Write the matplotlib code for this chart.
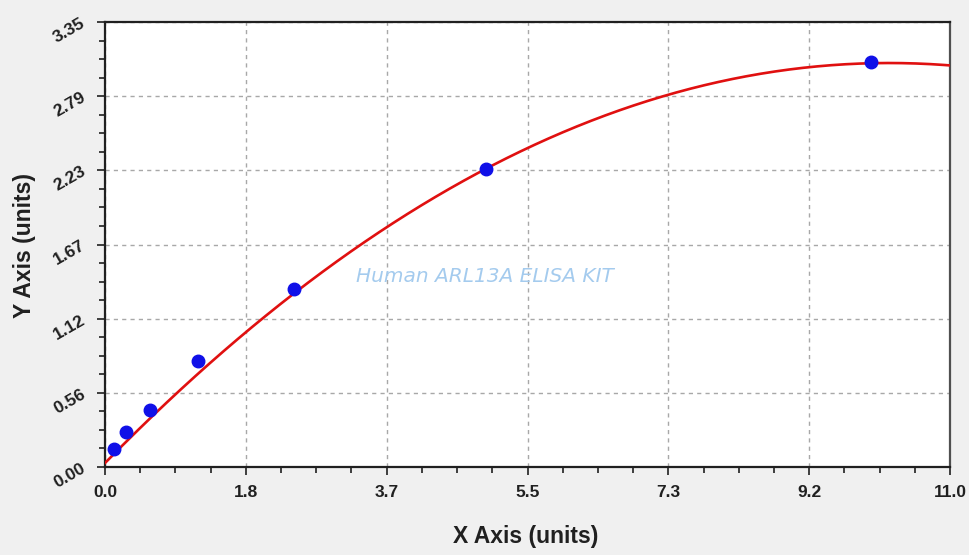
import numpy as np
import matplotlib
matplotlib.use("Agg")
import matplotlib.pyplot as plt
from matplotlib.ticker import FixedLocator, AutoMinorLocator

# Data
x_std = [0.12, 0.27, 0.58, 1.21, 2.46, 4.96, 9.97]
y_std = [0.136, 0.263, 0.430, 0.800, 1.340, 2.240, 3.050]

# Standard curve (quadratic) coefficients
fit_coef = [-0.0289, 0.590, 0.03]

x_ticks = [0.0, 11/6, 22/6, 33/6, 44/6, 55/6, 11.0]
x_tick_labels = ["0.0", "1.8", "3.7", "5.5", "7.3", "9.2", "11.0"]
y_ticks = [0.0, 3.35/6, 2*3.35/6, 3*3.35/6, 4*3.35/6, 5*3.35/6, 3.35]
y_tick_labels = ["0.00", "0.56", "1.12", "1.67", "2.23", "2.79", "3.35"]

title_text = "Human ARL13A ELISA KIT"
x_label = "X Axis (units)"
y_label = "Y Axis (units)"

x_fit = np.linspace(0, 11, 300)
y_fit = np.polyval(fit_coef, x_fit)

plt.rcParams['font.family'] = ['Liberation Sans', 'DejaVu Sans']

fig = plt.figure(figsize=(9.7, 5.55), dpi=100, facecolor="#f0f0f0")
ax = fig.add_axes([105/970, 88/555, 845/970, 445/555])
ax.set_facecolor("white")

ax.plot(x_fit, y_fit, color="#e01010", lw=1.9, zorder=3)
ax.plot(x_std, y_std, 'o', color="#1010e8", markersize=9, zorder=4)

ax.set_xlim(0, 11)
ax.set_ylim(0, 3.35)
ax.xaxis.set_major_locator(FixedLocator(x_ticks))
ax.yaxis.set_major_locator(FixedLocator(y_ticks))
ax.set_xticklabels(x_tick_labels, fontsize=12.5, fontweight="bold", color="#202020")
ax.set_yticklabels(y_tick_labels, fontsize=12.5, fontweight="bold", color="#202020",
                   rotation=30, ha="right", va="center", rotation_mode="anchor")
ax.xaxis.set_minor_locator(AutoMinorLocator(4))
ax.yaxis.set_minor_locator(AutoMinorLocator(4))
ax.tick_params(which="major", direction="out", length=6, width=1.2, color="#202020")
ax.tick_params(which="minor", direction="out", length=4, width=1.2, color="#202020")
ax.tick_params(axis="x", which="major", pad=7)
ax.tick_params(axis="y", which="major", pad=9)

ax.grid(True, which="major", color="#a8a8a8", linestyle=(0, (3, 3)), linewidth=1.0)

for side in ["left", "bottom", "top"]:
    ax.spines[side].set_linewidth(1.6)
    ax.spines[side].set_color("#202020")
ax.spines["right"].set_linewidth(1.6)
ax.spines["right"].set_color("#505050")

ax.text((485 - 105) / 845, (467 - 276) / 445, title_text, transform=ax.transAxes,
        ha="center", va="center", fontsize=14.5, style="italic", color="#a4cbee",
        zorder=2, family=["DejaVu Sans"])

fig.text(526/970, 1 - 537/555, x_label, ha="center", va="center",
         fontsize=16.5, fontweight="bold", color="#202020")
fig.text(25/970, 1 - 246/555, y_label, ha="center", va="center", rotation=90,
         fontsize=16.5, fontweight="bold", color="#202020")

fig.savefig("out.png", dpi=100, facecolor=fig.get_facecolor())
